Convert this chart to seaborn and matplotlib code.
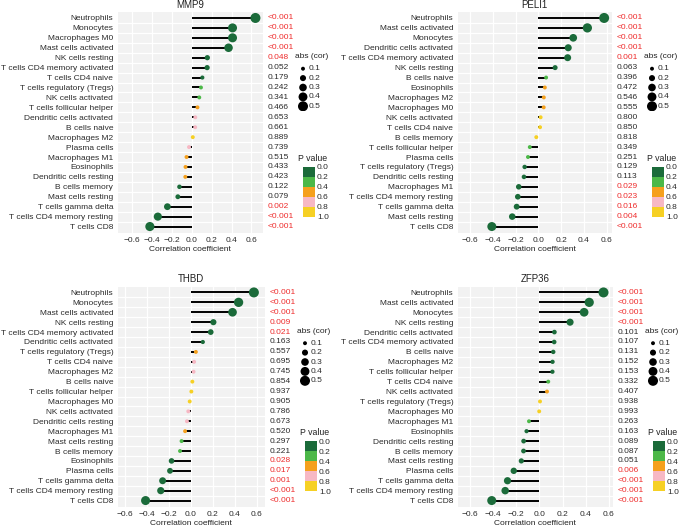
import matplotlib
matplotlib.use("Agg")
import matplotlib.pyplot as plt
import matplotlib.colors as mcolors
import matplotlib.transforms as mtransforms
import numpy as np
import pandas as pd
import seaborn as sns

# figure size in pixels (dpi 100)
W, H = 680, 528

# ---- data ----
mmp9_cells = ["Neutrophils", "Monocytes", "Macrophages M0", "Mast cells activated",
              "NK cells resting", "T cells CD4 memory activated", "T cells CD4 naive",
              "T cells regulatory (Tregs)", "NK cells activated", "T cells follicular helper",
              "Dendritic cells activated", "B cells naive", "Macrophages M2", "Plasma cells",
              "Macrophages M1", "Eosinophils", "Dendritic cells resting", "B cells memory",
              "Mast cells resting", "T cells gamma delta", "T cells CD4 memory resting",
              "T cells CD8"]
mmp9_cor = [0.64, 0.41, 0.41, 0.37, 0.157, 0.155, 0.107, 0.093, 0.076, 0.058, 0.036,
            0.035, 0.011, -0.027, -0.052, -0.062, -0.064, -0.123, -0.139, -0.244,
            -0.34, -0.42]
mmp9_p = [0.0005, 0.0005, 0.0005, 0.0005, 0.048, 0.052, 0.179, 0.242, 0.341, 0.466,
          0.653, 0.661, 0.889, 0.739, 0.515, 0.433, 0.423, 0.122, 0.079, 0.002,
          0.0005, 0.0005]

peli1_cells = ["Neutrophils", "Mast cells activated", "Monocytes", "Dendritic cells activated",
               "T cells CD4 memory activated", "NK cells resting", "B cells naive",
               "Eosinophils", "Macrophages M2", "Macrophages M0", "NK cells activated",
               "T cells CD4 naive", "B cells memory", "T cells follicular helper",
               "Plasma cells", "T cells regulatory (Tregs)", "Dendritic cells resting",
               "Macrophages M1", "T cells CD4 memory resting", "T cells gamma delta",
               "Mast cells resting", "T cells CD8"]
peli1_cor = [0.577, 0.43, 0.306, 0.262, 0.257, 0.147, 0.068, 0.057, 0.048, 0.047, 0.020,
             0.015, -0.018, -0.075, -0.091, -0.12, -0.126, -0.172, -0.18, -0.19,
             -0.229, -0.408]
peli1_p = [0.0005, 0.0005, 0.0005, 0.0005, 0.001, 0.063, 0.396, 0.472, 0.546, 0.555,
           0.800, 0.850, 0.818, 0.349, 0.251, 0.129, 0.113, 0.029, 0.023, 0.016,
           0.004, 0.0005]

thbd_cells = ["Neutrophils", "Monocytes", "Mast cells activated", "NK cells resting",
              "T cells CD4 memory activated", "Dendritic cells activated",
              "T cells regulatory (Tregs)", "T cells CD4 naive", "Macrophages M2",
              "B cells naive", "T cells follicular helper", "Macrophages M0",
              "NK cells activated", "Dendritic cells resting", "Macrophages M1",
              "Mast cells resting", "B cells memory", "Eosinophils", "Plasma cells",
              "T cells gamma delta", "T cells CD4 memory resting", "T cells CD8"]
thbd_cor = [0.574, 0.435, 0.38, 0.206, 0.182, 0.11, 0.047, 0.031, 0.026, 0.015, 0.006,
            -0.009, -0.022, -0.034, -0.051, -0.083, -0.097, -0.174, -0.188, -0.255,
            -0.272, -0.41]
thbd_p = [0.0005, 0.0005, 0.0005, 0.009, 0.021, 0.163, 0.557, 0.695, 0.745, 0.854,
          0.937, 0.905, 0.786, 0.673, 0.520, 0.297, 0.221, 0.028, 0.017, 0.001,
          0.0005, 0.0005]

zfp36_cells = ["Neutrophils", "Mast cells activated", "Monocytes", "NK cells resting",
               "Dendritic cells activated", "T cells CD4 memory activated", "B cells naive",
               "Macrophages M2", "T cells follicular helper", "T cells CD4 naive",
               "NK cells activated", "T cells regulatory (Tregs)", "Macrophages M0",
               "Macrophages M1", "Eosinophils", "Dendritic cells resting", "B cells memory",
               "Mast cells resting", "Plasma cells", "T cells gamma delta",
               "T cells CD4 memory resting", "T cells CD8"]
zfp36_cor = [0.553, 0.43, 0.386, 0.265, 0.13, 0.128, 0.12, 0.114, 0.113, 0.077, 0.066,
             0.006, -0.001, -0.089, -0.11, -0.135, -0.136, -0.155, -0.22, -0.274,
             -0.294, -0.41]
zfp36_p = [0.0005, 0.0005, 0.0005, 0.0005, 0.101, 0.107, 0.131, 0.152, 0.153, 0.332,
           0.407, 0.938, 0.993, 0.263, 0.163, 0.089, 0.087, 0.051, 0.006, 0.0005,
           0.0005, 0.0005]

P_BINS = [0.0, 0.2, 0.4, 0.6, 0.8, 1.0]
P_LABELS = ["0.0-0.2", "0.2-0.4", "0.4-0.6", "0.6-0.8", "0.8-1.0"]
P_COLORS = ["#1b6b3a", "#4cb848", "#f5a01d", "#f7b8c4", "#f6d024"]
SIZE_BREAKS = [0.1, 0.2, 0.3, 0.4, 0.5]

# panel boxes in pixels: left, right, top, bottom, and x limits
PANELS = {
    "MMP9": (117.5, 263, 12, 232.5, (-0.745, 0.716)),
    "PELI1": (457.5, 612, 12, 232.5, (-0.709, 0.646)),
    "THBD": (117.5, 265, 286.5, 506.5, (-0.665, 0.675)),
    "ZFP36": (457.5, 613, 286.5, 506.5, (-0.705, 0.635)),
}

TEXT_COL = "#2b2b2b"
RED = "#ee2c2c"
SIZE_NORM = mcolors.Normalize(0.1, 0.5, clip=True)
SIZES = (8, 52)

sns.set_theme(style="white")
plt.rcParams["font.family"] = ["Liberation Sans", "DejaVu Sans"]
plt.rcParams["axes.unicode_minus"] = True


def px_axes(fig, left, right, top, bottom):
    return fig.add_axes([left / W, 1 - bottom / H, (right - left) / W, (bottom - top) / H])


def fmt_p(p):
    return "<0.001" if p < 0.001 else f"{p:.3f}"


def lollipop(fig, gene, cells, cor, pvals):
    left, right, top, bottom, xlim = PANELS[gene]
    df = pd.DataFrame({"cell": cells, "cor": cor, "p": pvals})
    df["row"] = np.arange(len(df))
    df["abscor"] = df["cor"].abs()
    df["pbin"] = pd.Categorical(
        [P_LABELS[i] for i in np.digitize(df["p"], P_BINS[1:-1])], categories=P_LABELS)

    ax = px_axes(fig, left, right, top, bottom)
    ax.set_facecolor("#f2f2f2")
    for s in ax.spines.values():
        s.set_visible(False)

    n = len(df)
    # white grid: vertical at major ticks, horizontal between rows
    for x in np.arange(-0.6, 0.61, 0.2):
        ax.axvline(x, color="white", lw=0.9, zorder=0)
    for y in np.arange(n - 1) + 0.5:
        ax.axhline(y, color="white", lw=0.9, zorder=0)

    ax.hlines(df["row"], 0, df["cor"], color="black", lw=1.4, zorder=2)
    sns.scatterplot(data=df, x="cor", y="row", hue="pbin", size="abscor",
                    palette=dict(zip(P_LABELS, P_COLORS)), hue_order=P_LABELS,
                    sizes=SIZES, size_norm=SIZE_NORM, linewidth=0,
                    legend=False, ax=ax, zorder=3)

    ax.set_xlim(*xlim)
    ax.set_ylim(n - 0.4, -0.6)
    ticks = np.round(np.arange(-0.6, 0.61, 0.2), 1)
    ax.set_xticks(ticks)
    ax.set_xticklabels([f"{t:.1f}".replace("-", "\u2212") for t in ticks])
    ax.set_yticks(df["row"])
    ax.set_yticklabels(df["cell"])
    ax.tick_params(axis="both", length=0, labelsize=6, colors=TEXT_COL)
    ax.tick_params(axis="y", pad=3)
    ax.tick_params(axis="x", pad=3)
    ax.set_ylabel("")
    ax.set_xlabel("Correlation coefficient", fontsize=6, color="#222222", labelpad=2)
    ax.set_title(gene, fontsize=7, color="#222222", pad=3)

    # p-value column at the right of the panel
    trans = mtransforms.blended_transform_factory(ax.transAxes, ax.transData)
    trans = mtransforms.offset_copy(trans, fig=fig, x=5, y=0, units="dots")
    for _, r in df.iterrows():
        col = RED if r["p"] < 0.05 else TEXT_COL
        ax.text(1.0, r["row"], fmt_p(r["p"]), transform=trans, ha="left",
                va="center", fontsize=6, color=col)

    # size legend: abs (cor)
    lx = right + 32
    fig.text(lx / W, 1 - (top + 45) / H, "abs (cor)", fontsize=6, color="#222222",
             ha="left", va="center")
    lax = px_axes(fig, lx, lx + 40, top + 52, top + 99)
    leg = pd.DataFrame({"v": SIZE_BREAKS, "x": [8] * 5, "y": np.arange(5)})
    sns.scatterplot(data=leg, x="x", y="y", size="v", sizes=SIZES, size_norm=SIZE_NORM,
                    color="black", linewidth=0, legend=False, ax=lax)
    for _, r in leg.iterrows():
        lax.text(14, r["y"], f"{r['v']:.1f}", fontsize=6, color=TEXT_COL,
                 ha="left", va="center")
    lax.set_xlim(0, 40)
    lax.set_ylim(4.5, -0.5)
    lax.axis("off")

    # colour legend: P value
    fig.text((lx + 3) / W, 1 - (top + 146) / H, "P value", fontsize=6.3, color="#222222",
             ha="left", va="center")
    cax = px_axes(fig, lx + 8, lx + 20, top + 154.5, top + 204.5)
    cmap = mcolors.ListedColormap(P_COLORS)
    norm = mcolors.BoundaryNorm(P_BINS, cmap.N)
    cb = fig.colorbar(plt.cm.ScalarMappable(norm=norm, cmap=cmap), cax=cax, ticks=P_BINS)
    cb.outline.set_visible(False)
    cax.invert_yaxis()
    cax.set_yticklabels([f"{b:.1f}" for b in P_BINS])
    cax.tick_params(length=0, labelsize=6, pad=1.5, colors=TEXT_COL)
    return ax


fig = plt.figure(figsize=(W / 100, H / 100), dpi=100)
fig.patch.set_facecolor("white")

lollipop(fig, "MMP9", mmp9_cells, mmp9_cor, mmp9_p)
lollipop(fig, "PELI1", peli1_cells, peli1_cor, peli1_p)
lollipop(fig, "THBD", thbd_cells, thbd_cor, thbd_p)
lollipop(fig, "ZFP36", zfp36_cells, zfp36_cor, zfp36_p)

fig.savefig("out.png", dpi=100, facecolor="white")
